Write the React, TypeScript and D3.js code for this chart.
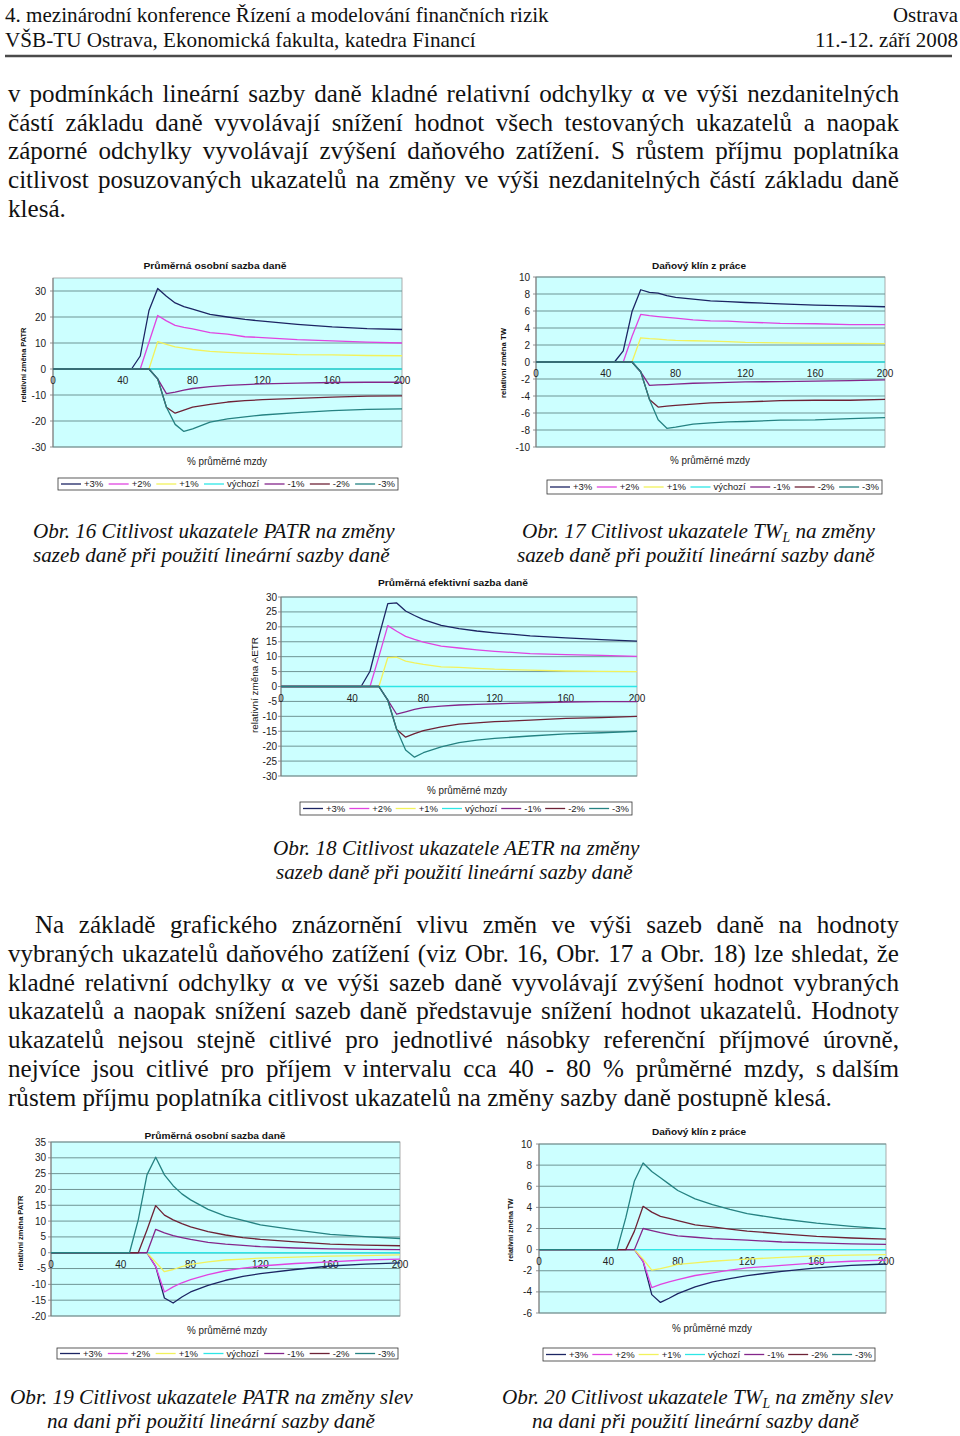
import React from 'react';
import * as d3 from 'd3';

// ---------- DATA ----------
const X_PCT = [0, 40, 45, 50, 55, 60, 65, 70, 75, 80, 90, 100, 110, 120, 140, 160, 180, 200];
const LEGEND_LABELS = ['+3%', '+2%', '+1%', 'výchozí', '-1%', '-2%', '-3%'];
const SERIES_COLORS = ['#1c2563', '#e044e0', '#f2f25c', '#2ee6e6', '#84268a', '#6e2236', '#258282'];
const BASE = [0, 0, 0, 0, 0, 0, 0, 0, 0, 0, 0, 0, 0, 0, 0, 0, 0, 0];

// Obr. 16 – PATR, sazby
const o16P3 = [0, 0, 0, 5, 22.5, 31, 28, 25.4, 24, 23, 21, 20, 19.1, 18.4, 17.2, 16.2, 15.5, 15.2];
const o16P2 = [0, 0, 0, 0, 10.3, 20.6, 18.5, 16.8, 16, 15.4, 14, 13.4, 12.4, 12.1, 11.3, 10.8, 10.3, 10];
const o16P1 = [0, 0, 0, 0, 0, 10.5, 9.5, 8.5, 8, 7.5, 6.8, 6.4, 6.1, 5.9, 5.5, 5.4, 5.2, 5.1];
const o16M1 = [0, 0, 0, 0, 0, -3.8, -9.5, -8.9, -8.1, -7.5, -6.8, -6.3, -6, -5.7, -5.4, -5.2, -5.1, -5.1];
const o16M2 = [0, 0, 0, 0, 0, -3.8, -14.7, -17, -15.8, -14.7, -13.6, -12.7, -12.2, -11.8, -11.3, -10.8, -10.4, -10.3];
const o16M3 = [0, 0, 0, 0, 0, -3.8, -14.7, -21.3, -24, -23, -20.4, -19.2, -18.4, -17.7, -16.8, -16, -15.5, -15.3];

// Obr. 17 – TW, sazby
const o17P3 = [0, 0, 0, 1.3, 5.9, 8.5, 8.2, 8.1, 7.8, 7.6, 7.4, 7.2, 7.1, 7.0, 6.85, 6.7, 6.6, 6.5];
const o17P2 = [0, 0, 0, 0, 3, 5.6, 5.45, 5.35, 5.25, 5.15, 4.95, 4.85, 4.8, 4.7, 4.55, 4.5, 4.4, 4.4];
const o17P1 = [0, 0, 0, 0, 0, 2.85, 2.75, 2.7, 2.6, 2.55, 2.5, 2.45, 2.4, 2.3, 2.25, 2.2, 2.2, 2.15];
const o17M1 = [0, 0, 0, 0, 0, -1.15, -2.75, -2.7, -2.65, -2.6, -2.5, -2.45, -2.4, -2.35, -2.3, -2.25, -2.2, -2.1];
const o17M2 = [0, 0, 0, 0, 0, -1.15, -4.4, -5.3, -5.2, -5.1, -4.95, -4.8, -4.75, -4.7, -4.55, -4.5, -4.5, -4.4];
const o17M3 = [0, 0, 0, 0, 0, -1.15, -4.4, -6.8, -7.8, -7.65, -7.3, -7.15, -7.05, -7.0, -6.85, -6.8, -6.65, -6.55];

// Obr. 18 – AETR, sazby
const o18P3 = [0, 0, 0, 5.1, 16.8, 27.8, 28, 25.3, 23.8, 22.4, 20.5, 19.4, 18.6, 18, 17, 16.3, 15.7, 15.2];
const o18P2 = [0, 0, 0, 0, 10, 20.4, 18.5, 16.8, 15.8, 14.9, 13.5, 12.9, 12.3, 11.8, 11, 10.7, 10.4, 10.1];
const o18P1 = [0, 0, 0, 0, 0, 9.7, 9.8, 8.5, 7.9, 7.4, 6.6, 6.4, 6.1, 5.8, 5.5, 5.2, 5.1, 5.0];
const o18M1 = [0, 0, 0, 0, 0, -4.6, -9.3, -8.5, -7.7, -7.1, -6.6, -6.2, -6, -5.8, -5.5, -5.2, -5.1, -5.1];
const o18M2 = [0, 0, 0, 0, 0, -4.6, -14.4, -17, -15.8, -14.8, -13.5, -12.6, -12.2, -11.8, -11.3, -10.7, -10.4, -10];
const o18M3 = [0, 0, 0, 0, 0, -4.6, -14.4, -21.3, -23.7, -22.2, -20.2, -18.8, -18, -17.4, -16.6, -15.9, -15.5, -15];

// Obr. 19 – PATR, slevy
const o19P3 = [0, 0, 0, 0, 0, -4.4, -14.3, -15.9, -14, -12.4, -10.3, -8.7, -7.5, -6.6, -5.3, -4.2, -3.6, -3.2];
const o19P2 = [0, 0, 0, 0, 0, -4.4, -12.4, -10.8, -9.5, -8.5, -6.9, -5.7, -4.9, -4.2, -3.4, -2.9, -2.3, -2.0];
const o19P1 = [0, 0, 0, 0, 0, -3, -6, -5.3, -4.4, -3.7, -2.9, -2.3, -2, -1.7, -1.4, -1.1, -0.9, -0.7];
const o19M1 = [0, 0, 0, 0, 0, 7.4, 6.3, 5.4, 4.8, 4.2, 3.3, 2.7, 2.3, 1.9, 1.5, 1.2, 1.05, 1];
const o19M2 = [0, 0, 0, 0, 7.2, 14.9, 11.9, 10.4, 9.2, 8.2, 6.7, 5.6, 4.8, 4.2, 3.4, 2.7, 2.4, 2.2];
const o19M3 = [0, 0, 0, 10.4, 24.6, 30.2, 24.6, 21.2, 18.6, 16.7, 13.7, 11.6, 10.2, 8.8, 7.2, 5.8, 5.1, 4.5];

// Obr. 20 – TW, slevy
const o20P3 = [0, 0, 0, 0, 0, -1.1, -4.26, -5, -4.6, -4.16, -3.53, -3.06, -2.75, -2.46, -2.05, -1.73, -1.5, -1.36];
const o20P2 = [0, 0, 0, 0, 0, -1.1, -3.6, -3.3, -3.05, -2.85, -2.45, -2.2, -1.95, -1.73, -1.5, -1.26, -1.1, -1.0];
const o20P1 = [0, 0, 0, 0, 0, -0.9, -1.95, -1.8, -1.6, -1.4, -1.25, -1.1, -1, -0.9, -0.73, -0.6, -0.52, -0.47];
const o20M1 = [0, 0, 0, 0, 0, 2.0, 1.8, 1.6, 1.45, 1.3, 1.17, 1.04, 0.97, 0.9, 0.72, 0.63, 0.54, 0.5];
const o20M2 = [0, 0, 0, 0, 1.75, 4.1, 3.55, 3.15, 2.95, 2.75, 2.35, 2.15, 1.95, 1.75, 1.5, 1.26, 1.1, 1.0];
const o20M3 = [0, 0, 0, 3.0, 6.5, 8.2, 7.4, 6.8, 6.2, 5.6, 4.8, 4.26, 3.8, 3.4, 2.9, 2.5, 2.2, 1.96];

const X_TICKS = [0, 40, 80, 120, 160, 200];

// ---------- TEXT ----------
const PARA1 = [
  'v podmínkách lineární sazby daně kladné relativní odchylky α ve výši nezdanitelných',
  'částí základu daně vyvolávají snížení hodnot všech testovaných ukazatelů a naopak',
  'záporné odchylky vyvolávají zvýšení daňového zatížení. S růstem příjmu poplatníka',
  'citlivost posuzovaných ukazatelů na změny ve výši nezdanitelných částí základu daně',
  'klesá.',
];
const PARA2 = [
  'Na základě grafického znázornění vlivu změn ve výši sazeb daně na hodnoty',
  'vybraných ukazatelů daňového zatížení (viz Obr. 16, Obr. 17 a Obr. 18) lze shledat, že',
  'kladné relativní odchylky α ve výši sazeb daně vyvolávají zvýšení hodnot vybraných',
  'ukazatelů a naopak snížení sazeb daně představuje snížení hodnot ukazatelů. Hodnoty',
  'ukazatelů nejsou stejně citlivé pro jednotlivé násobky referenční příjmové úrovně,',
  'nejvíce jsou citlivé pro příjem v\u00A0intervalu cca 40 - 80 % průměrné mzdy, s\u00A0dalším',
  'růstem příjmu poplatníka citlivost ukazatelů na změny sazby daně postupně klesá.',
];

// ---------- HELPERS ----------
let _ctx: CanvasRenderingContext2D | null = null;
function measure(text: string, font: string): number {
  if (!_ctx) _ctx = document.createElement('canvas').getContext('2d');
  _ctx!.font = font;
  return _ctx!.measureText(text).width;
}

const SERIF = 'Liberation Serif';
const SANS = 'Liberation Sans';

function JustLine({ text, x, y, width, justify, size }: any) {
  const font = `${size}px "${SERIF}"`;
  const words = text.split(' ');
  const widths = words.map((w: string) => measure(w, font));
  const total = d3.sum(widths);
  const space = justify && words.length > 1 ? (width - total) / (words.length - 1) : measure(' ', font);
  let cx = x;
  const xs = widths.map((w: number) => {
    const p = cx;
    cx += w + space;
    return p;
  });
  return (
    <text y={y} fontFamily={SERIF} fontSize={size} fill="#111">
      {words.map((w: string, i: number) => (
        <tspan key={i} x={xs[i]}>
          {w}
        </tspan>
      ))}
    </text>
  );
}

function FitText({ x, y, width, size, italic, parts }: any) {
  const st = italic ? 'italic ' : '';
  const natural = d3.sum(parts, (p: any) => measure(p.t, `${st}${p.sub ? size * 0.65 : size}px "${SERIF}"`));
  const sx = width / natural;
  let dyState = 0;
  return (
    <text
      transform={`translate(${x},${y}) scale(${sx},1)`}
      fontFamily={SERIF}
      fontSize={size}
      fontStyle={italic ? 'italic' : 'normal'}
      fill="#111"
      style={{ whiteSpace: 'pre' }}
    >
      {parts.map((p: any, i: number) => {
        const target = p.sub ? size * 0.2 : 0;
        const dy = target - dyState;
        dyState = target;
        return (
          <tspan key={i} dy={dy} fontSize={p.sub ? size * 0.65 : size}>
            {p.t}
          </tspan>
        );
      })}
    </text>
  );
}

type Spec = {
  x0: number; x1: number; yTop: number; yBot: number;
  yDomain: [number, number]; yStep: number; yMaxTick: number;
  labelRight: number;
  title: string; titleCx: number; titleY: number; titleW: number;
  yTitle: string; yTitleBold: boolean; yTitleSize: number; yTitleCx: number; yTitleCy: number; yTitleLen: number;
  xTitleCx: number; xTitleY: number; xTitleW: number;
  lg: [number, number, number, number];
};

function Chart({ spec, series }: { spec: Spec; series: number[][] }) {
  const xs = d3.scaleLinear().domain([0, 200]).range([spec.x0, spec.x1]);
  const ys = d3.scaleLinear().domain(spec.yDomain).range([spec.yBot, spec.yTop]);
  const line = d3
    .line<number>()
    .x((_d, i) => xs(X_PCT[i]))
    .y((d) => ys(d));
  const yTicks = d3.range(spec.yDomain[0], spec.yMaxTick + 1e-9, spec.yStep);
  const y0 = ys(0);

  // legend layout
  const [lx0, lx1, ly0, ly1] = spec.lg;
  const lgSize = 9.5;
  const lgFont = `${lgSize}px "${SANS}"`;
  const lineLen = 20;
  const widths = LEGEND_LABELS.map((l) => measure(l, lgFont));
  const used = d3.sum(widths) + LEGEND_LABELS.length * (lineLen + 3);
  const gap = (lx1 - lx0 - 6 - used) / (LEGEND_LABELS.length - 1);
  let cur = lx0 + 3;
  const lgPos = widths.map((w) => {
    const p = cur;
    cur += lineLen + 3 + w + gap;
    return p;
  });
  const lgCy = (ly0 + ly1) / 2;

  return (
    <g>
      <rect x={spec.x0} y={spec.yTop} width={spec.x1 - spec.x0} height={spec.yBot - spec.yTop} fill="#ccffff" stroke="#9a9a9a" strokeWidth={0.8} />
      {yTicks.map((t) => (
        <line key={'g' + t} x1={spec.x0} x2={spec.x1} y1={ys(t)} y2={ys(t)} stroke="#6f9595" strokeWidth={1} />
      ))}
      <line x1={spec.x0} x2={spec.x0} y1={spec.yTop} y2={spec.yBot} stroke="#7a7a7a" strokeWidth={1} />
      {yTicks.map((t) => (
        <line key={'t' + t} x1={spec.x0 - 3} x2={spec.x0} y1={ys(t)} y2={ys(t)} stroke="#7a7a7a" strokeWidth={0.8} />
      ))}
      <line x1={spec.x0} x2={spec.x1} y1={y0} y2={y0} stroke="#7a7a7a" strokeWidth={1} />
      {yTicks.map((t) => (
        <text key={'l' + t} x={spec.labelRight} y={ys(t)} dy="0.35em" textAnchor="end" fontFamily={SANS} fontSize={10} fill="#222">
          {t}
        </text>
      ))}
      {X_TICKS.map((t) => (
        <text key={'x' + t} x={xs(t)} y={y0 + 15} textAnchor="middle" fontFamily={SANS} fontSize={10} fill="#222">
          {t}
        </text>
      ))}
      {series.map((s, i) => (
        <path key={'s' + i} d={line(s) || ''} fill="none" stroke={SERIES_COLORS[i]} strokeWidth={1.3} strokeLinejoin="round" />
      ))}
      <text x={spec.titleCx} y={spec.titleY} textAnchor="middle" fontFamily={SANS} fontWeight="bold" fontSize={9.5} fill="#111" textLength={spec.titleW} lengthAdjust="spacingAndGlyphs">
        {spec.title}
      </text>
      <text x={spec.xTitleCx} y={spec.xTitleY} textAnchor="middle" fontFamily={SANS} fontSize={10.5} fill="#222" textLength={spec.xTitleW} lengthAdjust="spacingAndGlyphs">
        % průměrné mzdy
      </text>
      <text
        transform={`translate(${spec.yTitleCx},${spec.yTitleCy}) rotate(-90)`}
        textAnchor="middle"
        dy="0.35em"
        fontFamily={SANS}
        fontWeight={spec.yTitleBold ? 'bold' : 'normal'}
        fontSize={spec.yTitleSize}
        fill="#111"
        textLength={spec.yTitleLen}
        lengthAdjust="spacingAndGlyphs"
      >
        {spec.yTitle}
      </text>
      <rect x={lx0} y={ly0} width={lx1 - lx0} height={ly1 - ly0} fill="#fff" stroke="#333" strokeWidth={0.8} />
      {LEGEND_LABELS.map((l, i) => (
        <g key={'lg' + i}>
          <line x1={lgPos[i]} x2={lgPos[i] + lineLen} y1={lgCy} y2={lgCy} stroke={SERIES_COLORS[i]} strokeWidth={1.3} />
          <text x={lgPos[i] + lineLen + 3} y={lgCy} dy="0.35em" fontFamily={SANS} fontSize={lgSize} fill="#222">
            {l}
          </text>
        </g>
      ))}
    </g>
  );
}

const SPEC16: Spec = {
  x0: 53, x1: 402, yTop: 278, yBot: 447, yDomain: [-30, 35], yStep: 10, yMaxTick: 30, labelRight: 46,
  title: 'Průměrná osobní sazba daně', titleCx: 215, titleY: 268.5, titleW: 143,
  yTitle: 'relativní změna PATR', yTitleBold: true, yTitleSize: 7.5, yTitleCx: 23, yTitleCy: 365, yTitleLen: 75,
  xTitleCx: 227, xTitleY: 465, xTitleW: 80, lg: [58, 398, 478, 490],
};
const SPEC17: Spec = {
  x0: 536, x1: 885, yTop: 277, yBot: 447, yDomain: [-10, 10], yStep: 2, yMaxTick: 10, labelRight: 530,
  title: 'Daňový klín z práce', titleCx: 699, titleY: 268.5, titleW: 94,
  yTitle: 'relativní změna TW', yTitleBold: true, yTitleSize: 7.5, yTitleCx: 503, yTitleCy: 363, yTitleLen: 70,
  xTitleCx: 710, xTitleY: 464, xTitleW: 80, lg: [547, 882, 480, 494],
};
const SPEC18: Spec = {
  x0: 281, x1: 637, yTop: 597, yBot: 776, yDomain: [-30, 30], yStep: 5, yMaxTick: 30, labelRight: 277,
  title: 'Průměrná efektivní sazba daně', titleCx: 453, titleY: 586, titleW: 150,
  yTitle: 'relativní změna AETR', yTitleBold: false, yTitleSize: 9, yTitleCx: 255, yTitleCy: 685, yTitleLen: 96,
  xTitleCx: 467, xTitleY: 793.5, xTitleW: 80, lg: [300, 632, 802, 815],
};
const SPEC19: Spec = {
  x0: 51, x1: 400, yTop: 1142, yBot: 1316, yDomain: [-20, 35], yStep: 5, yMaxTick: 35, labelRight: 46,
  title: 'Průměrná osobní sazba daně', titleCx: 215, titleY: 1138.5, titleW: 141,
  yTitle: 'relativní změna PATR', yTitleBold: true, yTitleSize: 7.5, yTitleCx: 20, yTitleCy: 1233, yTitleLen: 75,
  xTitleCx: 227, xTitleY: 1334, xTitleW: 80, lg: [57, 398, 1348, 1359],
};
const SPEC20: Spec = {
  x0: 539, x1: 886, yTop: 1144, yBot: 1313, yDomain: [-6, 10], yStep: 2, yMaxTick: 10, labelRight: 532,
  title: 'Daňový klín z práce', titleCx: 699, titleY: 1134.5, titleW: 94,
  yTitle: 'relativní změna TW', yTitleBold: true, yTitleSize: 7.5, yTitleCx: 510, yTitleCy: 1230, yTitleLen: 63,
  xTitleCx: 712, xTitleY: 1331.5, xTitleW: 80, lg: [543, 875, 1348, 1361],
};

const CAPTIONS = [
  { x: 33, w: 362, y: 538, parts: [{ t: 'Obr. 16 Citlivost ukazatele PATR na změny' }] },
  { x: 33, w: 357, y: 562, parts: [{ t: 'sazeb daně při použití lineární sazby daně' }] },
  { x: 522, w: 353, y: 538, parts: [{ t: 'Obr. 17 Citlivost ukazatele TW' }, { t: 'L', sub: true }, { t: ' na změny' }] },
  { x: 517, w: 358, y: 562, parts: [{ t: 'sazeb daně při použití lineární sazby daně' }] },
  { x: 273, w: 367, y: 855, parts: [{ t: 'Obr. 18 Citlivost ukazatele AETR na změny' }] },
  { x: 276, w: 357, y: 879, parts: [{ t: 'sazeb daně při použití lineární sazby daně' }] },
  { x: 10, w: 403, y: 1404, parts: [{ t: 'Obr. 19 Citlivost ukazatele PATR na změny slev' }] },
  { x: 47, w: 328, y: 1428, parts: [{ t: 'na dani při použití lineární sazby daně' }] },
  { x: 502, w: 391, y: 1404, parts: [{ t: 'Obr. 20 Citlivost ukazatele TW' }, { t: 'L', sub: true }, { t: ' na změny slev' }] },
  { x: 532, w: 327, y: 1428, parts: [{ t: 'na dani při použití lineární sazby daně' }] },
];

export default function App() {
  const lastW = measure(PARA2[PARA2.length - 1], `24px "${SERIF}"`);
  const bodySize = (24 * 824) / lastW;
  return (
    <svg width={960} height={1436} viewBox="0 0 960 1436" style={{ position: 'absolute', left: 0, top: 0, display: 'block', background: '#fff' }}>
      <rect width={960} height={1436} fill="#fff" />
      {/* header */}
      <FitText x={5} y={22} width={544} size={22} parts={[{ t: '4. mezinárodní konference Řízení a modelování finančních rizik' }]} />
      <FitText x={5} y={47} width={471} size={22} parts={[{ t: 'VŠB-TU Ostrava, Ekonomická fakulta, katedra Financí' }]} />
      <FitText x={893} y={22} width={65} size={22} parts={[{ t: 'Ostrava' }]} />
      <FitText x={815} y={47} width={143} size={22} parts={[{ t: '11.-12. září 2008' }]} />
      <line x1={5} x2={952} y1={56} y2={56} stroke="#4a4a4a" strokeWidth={2.5} />

      {PARA1.map((t, i) => (
        <JustLine key={'p1' + i} text={t} x={8} y={101.7 + i * 28.8} width={891} justify={i < PARA1.length - 1} size={bodySize} />
      ))}
      {PARA2.map((t, i) => (
        <JustLine key={'p2' + i} text={t} x={i === 0 ? 35 : 8} y={933.3 + i * 28.7} width={i === 0 ? 864 : 891} justify={i < PARA2.length - 1} size={bodySize} />
      ))}

      <Chart spec={SPEC16} series={[o16P3, o16P2, o16P1, BASE, o16M1, o16M2, o16M3]} />
      <Chart spec={SPEC17} series={[o17P3, o17P2, o17P1, BASE, o17M1, o17M2, o17M3]} />
      <Chart spec={SPEC18} series={[o18P3, o18P2, o18P1, BASE, o18M1, o18M2, o18M3]} />
      <Chart spec={SPEC19} series={[o19P3, o19P2, o19P1, BASE, o19M1, o19M2, o19M3]} />
      <Chart spec={SPEC20} series={[o20P3, o20P2, o20P1, BASE, o20M1, o20M2, o20M3]} />

      {CAPTIONS.map((c, i) => (
        <FitText key={'c' + i} x={c.x} y={c.y} width={c.w} size={21} italic parts={c.parts} />
      ))}
    </svg>
  );
}
